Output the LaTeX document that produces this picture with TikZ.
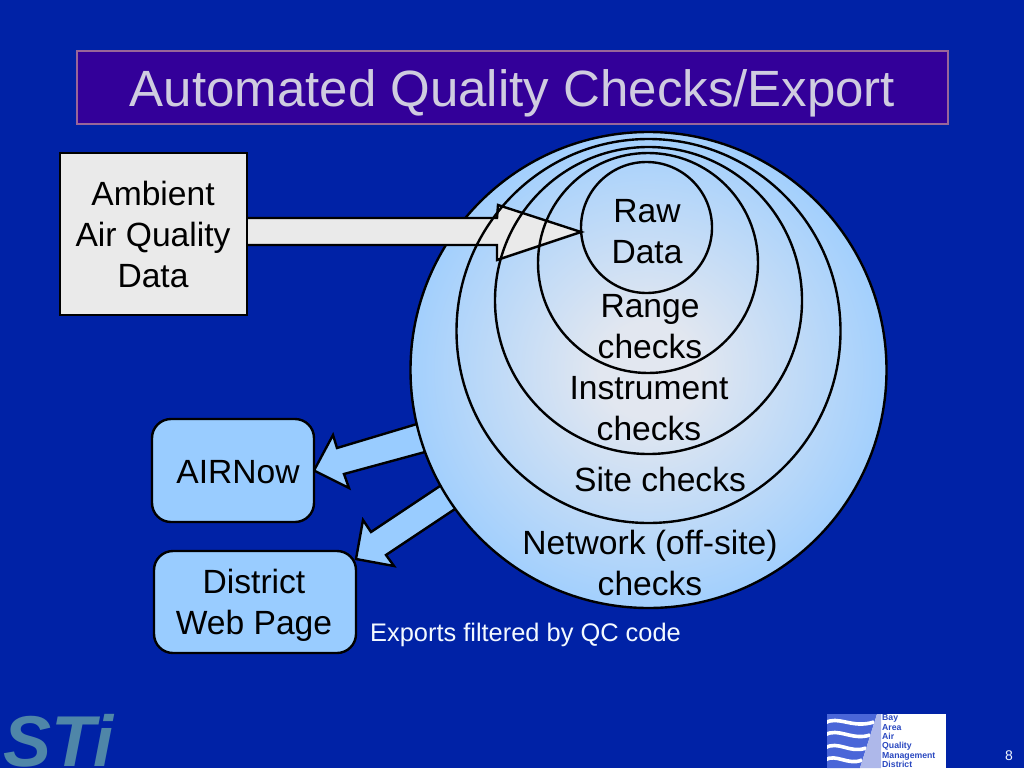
\documentclass[tikz,border=0pt]{standalone}
\usepackage{fontspec}
\setmainfont{Liberation Sans}
\usetikzlibrary{calc}
\definecolor{bgblue}{HTML}{0022A6}
\definecolor{titlefill}{HTML}{330099}
\definecolor{titleedge}{HTML}{996699}
\definecolor{titletext}{HTML}{CFCCE0}
\definecolor{paleblue}{HTML}{99CCFF}
\definecolor{centerpale}{HTML}{E2E7F0}
\definecolor{boxgray}{HTML}{EAEAEA}
\definecolor{stiblue}{HTML}{4F86A8}
\definecolor{logoblue}{HTML}{4A66D8}
\definecolor{logolight}{HTML}{AEB8EA}
\definecolor{logotext}{HTML}{2A48C0}
\pgfdeclareradialshading{discshade}{\pgfpoint{0bp}{0bp}}{%
  color(0bp)=(centerpale); color(5bp)=(centerpale); color(28bp)=(paleblue); color(50bp)=(paleblue)}
\tikzset{
  x=1pt,y=-1pt,
  body/.style={font=\fontsize{33.6}{41}\selectfont,text=black,align=center,inner sep=0pt},
  ring/.style={circle,draw=black,line width=2.4pt,minimum size=#1,inner sep=0pt},
  softbox/.style={draw=black,line width=2.4pt,fill=paleblue,rounded corners=19pt},
  blockedge/.style={draw=black,line width=2.4pt,line join=miter},
  wave/.style={draw=white,line width=3.6pt},
}
\begin{document}
\begin{tikzpicture}
\useasboundingbox (0,0) rectangle (1024,768);
\fill[bgblue] (0,0) rectangle (1024,768);
% title
\node[draw=titleedge,line width=1.5pt,fill=titlefill,minimum width=871pt,minimum height=73pt,inner sep=0pt] (title) at (512.5,87.5) {};
\node[inner sep=0pt,text=titletext,font=\fontsize{51}{60}\selectfont,anchor=base] (titlelabel) at (512.5,106) {Automated Quality Checks/Export};
% export block arrows (behind disc)
\coordinate (t1) at (314,470.5);
\coordinate (t2) at (356,559);
\fill[paleblue] (t1)--(333,435)--(337,448)--(417,424)--(425,452)--(344,474)--(349,488)--cycle;
\draw[blockedge] (417,424)--(337,448)--(333,435)--(t1)--(349,488)--(344,474)--(425,452);
\fill[paleblue] (t2)--(363,520)--(371,532)--(440,486)--(455,509)--(386,555)--(394,566)--cycle;
\draw[blockedge] (440,486)--(371,532)--(363,520)--(t2)--(394,566)--(386,555)--(455,509);
% boxes
\node[softbox,minimum width=162pt,minimum height=103pt] (airnow) at (233,470.5) {};
\node[softbox,minimum width=202pt,minimum height=102pt] (web) at (255,602) {};
\node[draw=black,line width=2.4pt,fill=boxgray,minimum width=187pt,minimum height=162pt] (ambient) at (153.5,234) {};
% outer disc
\node[ring=476pt,shade,shading=discshade] (c1) at (648.5,370) {};
% input arrow
\coordinate (tip) at (581,232);
\fill[boxgray] (ambient.east |- 0,218)--(497,218)--(498,205)--(tip)--(497,260)--(497,245)--(ambient.east |- 0,245)--cycle;
\draw[blockedge] (ambient.east |- 0,218)--(497,218)--(498,205)--(tip)--(497,260)--(497,245)--(ambient.east |- 0,245);
% inner rings
\node[ring=384pt] (c2) at (648.5,331) {};
\node[ring=307pt] (c3) at (648.5,300.5) {};
\node[ring=220pt] (c4) at (648,263) {};
\node[ring=131pt] (c5) at (646.5,227.5) {};
% labels
\node[body] (lraw) at (647,231.5) {Raw\\Data};
\node[body] (lrange) at (650,326.5) {Range\\checks};
\node[body] (linst) at (649,408.5) {Instrument\\checks};
\node[body] (lsite) at (660,479.5) {Site checks};
\node[body] (lnet) at (650,562.5) {Network (off-site)\\checks};
\node[body] (lair) at (238,472.5) {AIRNow};
\node[body] (lweb) at (254,605.5) {District\\Web Page};
\node[body] (lamb) at (153,234) {Ambient\\Air Quality\\Data};
\node[inner sep=0pt,anchor=base west,text=white!88!paleblue,font=\fontsize{25.4}{30}\selectfont] (exports) at (370,641) {Exports filtered by QC code};
% STI logo
\node[inner sep=0pt,anchor=base west,text=stiblue,font=\fontsize{72}{76}\bfseries\itshape\selectfont] (sti) at (3,766) {STi};
% BAAQMD logo
\fill[white] (827,714) rectangle (946,768);
\begin{scope}
\clip (827,714) rectangle (946,768);
\fill[logoblue] (827,714)--(877,714)--(860,768)--(827,768)--cycle;
\draw[wave] (825,723) .. controls (838,715) and (852,729) .. (874,722);
\draw[wave] (825,735) .. controls (838,727) and (852,741) .. (870,735);
\draw[wave] (825,748) .. controls (838,740) and (850,754) .. (866,748);
\draw[wave] (825,760) .. controls (836,753) and (848,766) .. (862,760);
\fill[logolight] (877,714)--(881,714)--(881,768)--(860,768)--cycle;
\end{scope}
\node[inner sep=0pt,anchor=north west,align=left,text=logotext,font=\fontsize{8.7}{9.4}\bfseries\selectfont] (baaqmd) at (882,714.5) {Bay\\Area\\Air\\Quality\\Management\\District};
\node[inner sep=0pt,text=white!85!paleblue,font=\fontsize{14}{16}\selectfont] (pageno) at (1009,756) {8};
\end{tikzpicture}
\end{document}
